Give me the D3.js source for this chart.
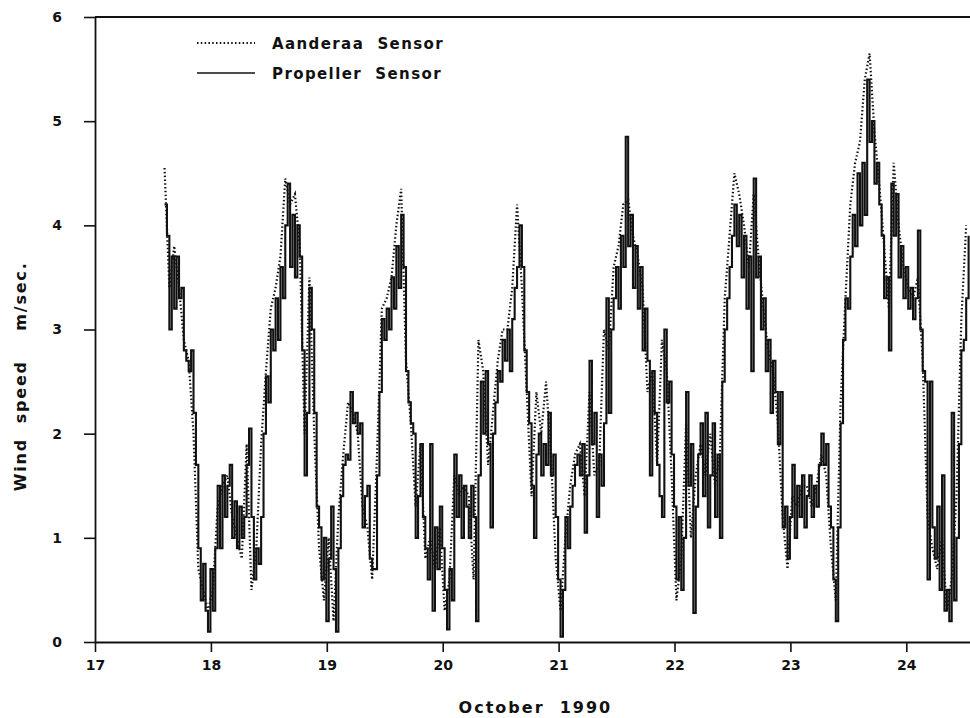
<!DOCTYPE html>
<html>
<head>
<meta charset="utf-8">
<script src="https://cdn.jsdelivr.net/npm/d3@7"></script>
<style>
  body { margin: 0; background: #fff; }
  text { font-family: "DejaVu Sans", sans-serif; font-weight: bold; fill: #111; }
</style>
</head>
<body>
<svg id="drawing_region"></svg>
<script>
// time axis: days of October 1990
const startDay = 17.6;
const propStepHours = 0.5;
const aandStepHours = 1;

// propeller sensor, every half hour from 17.6
const propeller = [
  4.2, 3.9, 3.0, 3.7, 3.2, 3.7, 3.3, 3.4, 2.8, 2.7, 2.6, 2.8, 2.2, 1.7, 0.9, 0.4, 0.75, 0.3, 0.1, 0.7,
  0.3, 0.9, 1.5, 0.9, 1.6, 1.2, 1.5, 1.7, 1.0, 1.35, 0.9, 1.3, 1.0, 1.2, 1.7, 2.05, 1.2, 0.6, 0.9, 0.75, 1.2, 2.0, 2.55, 2.3,
  3.0, 2.8, 3.3, 2.9, 3.6, 3.3, 4.0, 4.4, 3.6, 4.1, 3.5, 4.0, 3.7, 2.8, 1.6, 2.2, 3.4, 3.0, 2.2, 1.3, 1.1, 0.6, 1.0, 0.2,
  0.8, 1.3, 0.7, 0.1, 0.9, 1.4, 1.7, 1.8, 1.75, 2.4, 2.1, 2.2, 2.0, 2.1, 1.1, 1.4, 1.5, 0.8, 0.7, 0.7, 1.6, 2.4, 3.1, 2.9,
  3.2, 3.0, 3.5, 3.2, 3.8, 3.4, 4.1, 3.6, 2.6, 2.3, 2.1, 2.0, 1.0, 1.4, 1.9, 1.2, 0.9, 0.6, 1.9, 0.3, 1.1, 0.7, 1.3, 0.9,
  0.5, 0.12, 0.7, 0.4, 1.8, 1.2, 1.6, 1.0, 1.5, 1.3, 1.0, 1.5, 1.2, 0.2, 1.6, 2.5, 2.0, 2.6, 1.9, 1.1, 2.0, 2.3, 2.6, 2.5,
  2.9, 2.7, 3.0, 2.6, 3.1, 3.4, 3.6, 4.0, 3.6, 2.8, 2.4, 2.1, 1.5, 1.0, 1.8, 2.0, 1.6, 1.9, 1.7, 2.2, 1.6, 1.8, 1.2, 0.6,
  0.05, 0.5, 1.2, 0.9, 1.3, 1.5, 1.7, 1.8, 1.6, 1.9, 1.05, 1.6, 2.7, 1.9, 2.2, 1.2, 1.8, 1.5, 2.1, 3.3, 2.2, 3.0, 3.3, 3.6,
  3.2, 3.9, 3.6, 4.85, 3.8, 4.1, 3.4, 3.8, 3.2, 3.6, 2.8, 3.2, 2.7, 1.6, 2.6, 2.2, 1.7, 1.4, 1.2, 3.0, 2.3, 2.5, 1.8, 1.3,
  0.6, 1.2, 0.5, 1.0, 2.4, 1.5, 1.9, 0.28, 1.3, 1.8, 2.1, 1.4, 2.2, 1.1, 1.6, 2.1, 1.2, 1.8, 1.0, 2.5, 3.0, 3.3, 3.6, 3.9,
  4.2, 3.8, 4.1, 3.5, 3.9, 3.2, 3.7, 2.6, 4.45, 3.5, 3.7, 3.0, 3.3, 2.6, 2.9, 2.2, 2.7, 2.4, 1.9, 2.4, 1.1, 1.3, 0.8, 1.2,
  1.7, 1.0, 1.5, 1.2, 1.6, 1.1, 1.4, 1.6, 1.2, 1.5, 1.3, 1.7, 2.0, 1.7, 1.9, 1.3, 1.1, 0.6, 0.2, 1.1, 2.1, 2.9, 3.3, 3.2,
  3.7, 4.1, 3.8, 4.5, 4.0, 4.6, 4.1, 5.4, 4.8, 5.0, 4.4, 4.6, 4.2, 3.9, 3.3, 3.5, 2.8, 4.4, 3.9, 4.3, 3.5, 3.8, 3.3, 3.6,
  3.2, 3.4, 3.1, 3.3, 3.95, 3.0, 2.6, 2.5, 0.6, 2.5, 1.1, 0.8, 1.3, 0.5, 1.6, 0.3, 0.5, 0.2, 2.2, 0.4, 1.0, 1.9, 2.8, 2.9, 3.3, 3.9
];

// Aanderaa sensor, every hour from 17.6
const aanderaa = [
  4.55, 3.4, 3.8, 3.4, 2.9, 2.7, 2.0, 0.7, 0.5, 0.3,
  0.5, 1.3, 1.5, 1.6, 1.2, 1.0, 0.8, 1.9, 0.5, 0.9, 1.9, 2.6,
  3.2, 3.4, 3.7, 4.45, 4.2, 4.3, 3.8, 2.0, 3.5, 2.0, 0.9, 0.4,
  1.0, 0.2, 1.2, 1.8, 2.3, 2.2, 2.0, 1.3, 1.1, 0.6, 1.8, 3.2,
  3.3, 3.5, 4.0, 4.35, 2.7, 2.1, 1.3, 1.9, 0.8, 1.0, 0.7, 1.1,
  0.3, 0.6, 1.6, 1.4, 1.5, 1.4, 0.6, 2.9, 2.6, 1.7, 2.2, 2.7,
  3.0, 3.0, 3.4, 4.2, 3.4, 2.4, 1.4, 2.4, 2.0, 2.5, 1.8, 0.8,
  0.3, 1.0, 1.5, 1.8, 1.9, 1.4, 2.4, 1.6, 1.7, 3.0, 2.8, 3.6,
  3.8, 4.2, 4.25, 3.9, 3.7, 3.4, 2.4, 2.6, 1.7, 2.9, 2.6, 1.6,
  0.4, 0.8, 2.1, 1.0, 1.6, 1.9, 1.6, 2.0, 1.5, 1.8, 3.3, 3.9,
  4.5, 4.3, 4.0, 3.6, 4.3, 3.7, 3.2, 2.8, 2.6, 2.1, 1.2, 0.7,
  1.4, 1.3, 1.5, 1.5, 1.3, 1.5, 1.8, 1.6, 0.9, 0.4, 2.3, 3.3,
  4.2, 4.6, 4.8, 5.4, 5.65, 4.9, 4.4, 3.8, 3.2, 4.6, 4.0, 3.6,
  3.4, 3.3, 3.5, 2.7, 1.2, 0.9, 0.7, 1.0, 0.3, 0.6, 1.4, 3.1, 4.0
];

const dayTicks = [17, 18, 19, 20, 21, 22, 23, 24];
const speedTicks = [0, 1, 2, 3, 4, 5, 6];
const legendLabels = ["Aanderaa  Sensor", "Propeller  Sensor"];

const width = 970, height = 718;
const margin = {top: 17, right: 0, bottom: 76, left: 95};

const svg = d3.select('#drawing_region')
    .attr('width', width)
    .attr('height', height);

const inner_width = width - margin.left - margin.right;
const inner_height = height - margin.top - margin.bottom;

const chart = svg.append('g')
    .attr('transform', `translate(${margin.left}, ${margin.top})`);

// one day is about 116 px, the plot runs off the right edge
const xscale = d3.scaleLinear()
    .domain([17, 17 + inner_width / 115.9])
    .range([0, inner_width]);

const yscale = d3.scaleLinear()
    .domain([0, 6])
    .range([inner_height, 0]);

const propData = propeller.map((v, i) => ({t: startDay + i * propStepHours / 24, v: v}));
const aandData = aanderaa.map((v, i) => ({t: startDay + i * aandStepHours / 24, v: v}));

const line = d3.line()
    .x(d => xscale(d.t))
    .y(d => yscale(d.v));

const stepLine = d3.line()
    .curve(d3.curveStepAfter)
    .x(d => xscale(d.t))
    .y(d => yscale(d.v));

chart.append('path')
    .datum(aandData)
    .attr('d', line)
    .attr('fill', 'none')
    .attr('stroke', '#111')
    .attr('stroke-width', 2.2)
    .attr('stroke-dasharray', '1.5,2.3');

chart.append('path')
    .datum(propData)
    .attr('d', stepLine)
    .attr('fill', 'none')
    .attr('stroke', '#111')
    .attr('stroke-width', 2.1);

// axes
const xaxis = d3.axisBottom(xscale)
    .tickValues(dayTicks)
    .tickSize(10)
    .tickSizeOuter(0)
    .tickPadding(8);

const yaxis = d3.axisLeft(yscale)
    .tickValues(speedTicks)
    .tickFormat(d3.format('d'))
    .tickSize(11)
    .tickSizeOuter(0)
    .tickPadding(22);

const xaxis_group = chart.append('g')
    .attr('transform', `translate(0, ${inner_height})`)
    .call(xaxis);

const yaxis_group = chart.append('g')
    .call(yaxis);

[xaxis_group, yaxis_group].forEach(g => {
    g.select('.domain').attr('stroke', '#111').attr('stroke-width', 1.8);
    g.selectAll('.tick line').attr('stroke', '#111').attr('stroke-width', 1.6);
    g.selectAll('.tick text')
        .attr('fill', '#111')
        .style('font-size', '14px')
        .style('font-family', '"DejaVu Sans", sans-serif')
        .style('font-weight', 'bold');
});

// top frame line at 6
chart.append('line')
    .attr('x1', 0).attr('x2', inner_width)
    .attr('y1', yscale(6)).attr('y2', yscale(6))
    .attr('stroke', '#111')
    .attr('stroke-width', 1.8);

// axis titles
svg.append('text')
    .attr('x', margin.left + xscale(20.8) )
    .attr('y', 713)
    .attr('text-anchor', 'middle')
    .style('font-size', '16px')
    .style('letter-spacing', '2px')
    .style('white-space', 'pre')
    .text('October  1990');

svg.append('text')
    .attr('transform', `translate(26, ${margin.top + yscale(2.55)}) rotate(-90)`)
    .attr('text-anchor', 'middle')
    .style('font-size', '16px')
    .style('letter-spacing', '1.8px')
    .style('white-space', 'pre')
    .text('Wind  speed    m/sec.');

// legend
const legend = svg.append('g')
    .attr('transform', 'translate(197, 43)');

legend.append('line')
    .attr('x1', 0).attr('x2', 58).attr('y1', 0).attr('y2', 0)
    .attr('stroke', '#111')
    .attr('stroke-width', 2)
    .attr('stroke-dasharray', '1.5,2.3');

legend.append('line')
    .attr('x1', 0).attr('x2', 58).attr('y1', 30).attr('y2', 30)
    .attr('stroke', '#111')
    .attr('stroke-width', 1.6);

legend.selectAll('text.label')
    .data(legendLabels)
    .enter()
    .append('text')
    .attr('class', 'label')
    .attr('x', 75)
    .attr('y', (d, i) => 6 + i * 30)
    .style('font-size', '15px')
    .style('letter-spacing', '1.4px')
    .style('white-space', 'pre')
    .text(d => d);
</script>
</body>
</html>
